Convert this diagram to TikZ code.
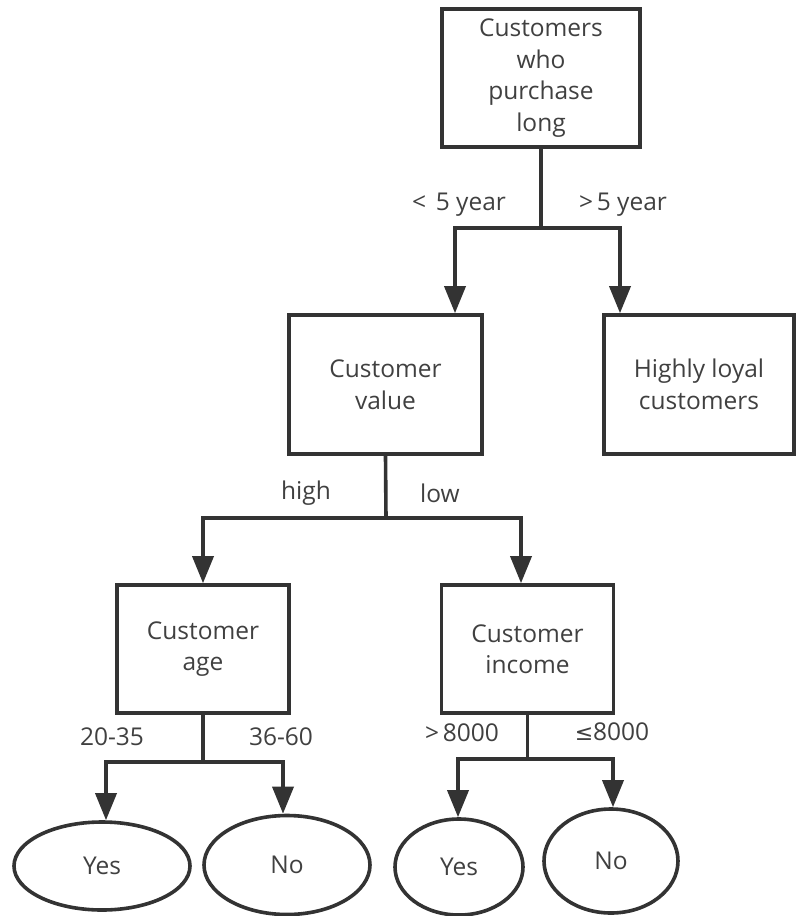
\documentclass[tikz,border=0pt]{standalone}
\usepackage{fontspec}
\setmainfont{Open Sans}
\newfontfamily\symfont{DejaVu Sans}
\usetikzlibrary{arrows.meta,shapes.geometric}
\definecolor{linec}{HTML}{333333}
\definecolor{textc}{HTML}{404040}
\begin{document}
\begin{tikzpicture}[x=1pt,y=-1pt,
  box/.style={draw=linec, line width=3.6pt, rectangle, inner sep=0pt, align=center,
    text=textc, font=\fontsize{24.5}{31.5}\selectfont},
  leaf/.style={draw=linec, line width=3.6pt, ellipse, inner sep=0pt,
    text=textc, font=\fontsize{24.5}{31}\selectfont},
  lbl/.style={text=textc, font=\fontsize{24.5}{28}\selectfont, inner sep=0pt},
  conn/.style={draw=linec, line width=3.6pt},
  arr/.style={conn, -{Triangle[width=21pt,length=27pt]}}
]
\useasboundingbox (0,0) rectangle (796,916);

% boxes
\node[box, minimum width=198pt, minimum height=138pt] (root) at (541,78) {Customers\\who\\purchase\\long};
\node[box, minimum width=193pt, minimum height=139pt] (value) at (385.5,384.5) {Customer\\value};
\node[box, minimum width=190pt, minimum height=139pt] (loyal) at (699,384.5) {Highly loyal\\customers};
\node[box, minimum width=172pt, minimum height=128pt] (age) at (203,649) {Customer\\age};
\node[box, minimum width=172pt, minimum height=128pt] (income) at (527.5,649) {Customer\\income};

% leaves
\node[leaf, minimum width=176pt, minimum height=88pt] (yes1) at (102,866) {Yes};
\node[leaf, minimum width=166pt, minimum height=99pt] (no1) at (287,865) {No};
\node[leaf, minimum width=128pt, minimum height=96pt] (yes2) at (459,867) {Yes};
\node[leaf, minimum width=134pt, minimum height=104pt] (no2) at (611,861) {No};

% level 1
\coordinate (j1) at (541,228);
\coordinate (j1l) at (455,228);
\coordinate (j1r) at (620,228);
\draw[conn] (root.south) -- (j1);
\draw[arr] (j1) -- (j1l) -- (j1l |- value.north);
\draw[arr] (j1) -- (j1r) -- (j1r |- loyal.north);
\node[lbl] (l1) at (459,205) {<\hspace{0.4em}5 year};
\node[lbl] (l2) at (623,205) {>\hspace{0.15em}5 year};

% level 2
\coordinate (j2) at (386,518);
\coordinate (j2l) at (203,518);
\coordinate (j2r) at (521,518);
\draw[conn] (value.south) -- (j2);
\draw[arr] (j2) -- (j2l) -- (j2l |- age.north);
\draw[arr] (j2) -- (j2r) -- (j2r |- income.north);
\node[lbl] (l3) at (306,493) {high};
\node[lbl] (l4) at (440,493) {low};

% level 3 left
\coordinate (j3) at (203,762);
\coordinate (j3l) at (106,762);
\coordinate (j3r) at (283,762);
\draw[conn] (age.south) -- (j3);
\draw[arr] (j3) -- (j3l) -- (j3l |- yes1.north);
\draw[arr] (j3) -- (j3r) -- (j3r |- no1.north);
\node[lbl] (l5) at (112,737) {20-35};
\node[lbl] (l6) at (281,737) {36-60};

% level 3 right
\coordinate (j4) at (527.5,759);
\coordinate (j4l) at (458,759);
\coordinate (j4r) at (613,759);
\draw[conn] (income.south) -- (j4);
\draw[arr] (j4) -- (j4l) -- (j4l |- yes2.north);
\draw[arr] (j4) -- (j4r) -- (j4r |- no2.north);
\node[lbl] (l7) at (462,733) {>\hspace{0.15em}8000};
\node[lbl] (l8) at (612,732) {{\symfont\fontsize{22}{26}\selectfont ≤}8000};
\end{tikzpicture}
\end{document}
